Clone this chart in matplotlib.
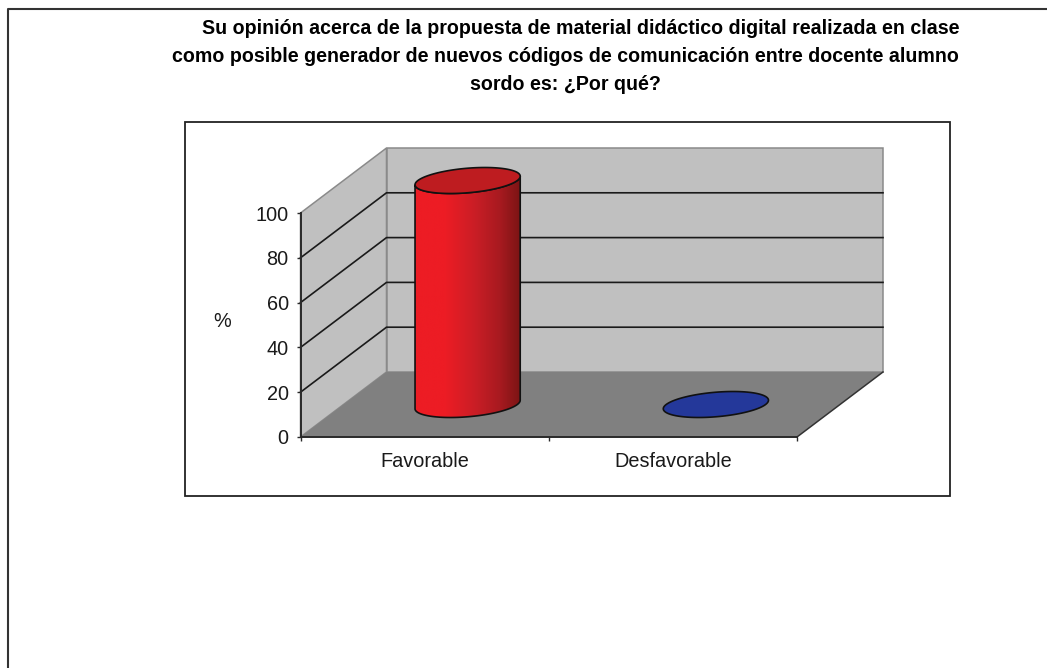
import numpy as np
import matplotlib
matplotlib.use("Agg")
import matplotlib.pyplot as plt
from matplotlib.patches import Polygon, Rectangle
from matplotlib.colors import LinearSegmentedColormap
from matplotlib.lines import Line2D

# ---- data ----
title_lines = [
    "Su opinión acerca de la propuesta de material didáctico digital realizada en clase",
    "como posible generador de nuevos códigos de comunicación entre docente alumno",
    "sordo es: ¿Por qué?",
]
categories = ["Favorable", "Desfavorable"]
values = [100, 0]
y_ticks = [0, 20, 40, 60, 80, 100]
y_label = "%"

# ---- styles ----
W, H = 1047, 668
plt.rcParams["font.family"] = ["Liberation Sans", "DejaVu Sans"]
WALL, FLOOR, EDGE = "#C0C0C0", "#808080", "#8A8A8A"
ramp_stops = [0, 0.28, 0.55, 0.8, 1]
side_ramps = [["#ED1C24", "#ED1C24", "#CC1E26", "#A81A20", "#7A1414"],
              ["#24389A", "#24389A", "#1E2E80", "#182468", "#101A50"]]
top_colors = ["#BE1C20", "#24389A"]
LABEL_SIZE = 14.3
LABEL_COLOR = "#1A1A1A"

fig = plt.figure(figsize=(W / 100, H / 100), dpi=100, facecolor="white")
# front plane of the 3D box
x0, x1, ytop, ybot = 300.5, 797, 213, 437
ax = fig.add_axes([x0 / W, 1 - ybot / H, (x1 - x0) / W, (ybot - ytop) / H])
ax.patch.set_visible(False)
ax.set_xlim(0, len(categories))
ax.set_ylim(0, 100)

# depth vector in data units
px_x = len(categories) / (x1 - x0)
px_y = 100 / (ybot - ytop)
dx, dy = 86 * px_x, 65 * px_y
xmax = len(categories)

def add_poly(pts, **kw):
    ax.add_patch(Polygon(pts, closed=True, clip_on=False, **kw))

# walls and floor
add_poly([(0, 0), (dx, dy), (dx, 100 + dy), (0, 100)], fc=WALL, ec=EDGE, lw=1.1, zorder=1)
add_poly([(dx, dy), (xmax + dx, dy), (xmax + dx, 100 + dy), (dx, 100 + dy)], fc=WALL, ec=EDGE, lw=1.1, zorder=1)
add_poly([(0, 0), (xmax, 0), (xmax + dx, dy), (dx, dy)], fc=FLOOR, ec="none", zorder=1.5)
ax.plot([xmax, xmax + dx], [0, dy], color="#333333", lw=1.1, clip_on=False, zorder=2)

# gridlines along side and back wall
for t in y_ticks[1:-1]:
    ax.plot([0, dx, xmax + dx], [t, t + dy, t + dy], color="#1A1A1A", lw=1.2,
            clip_on=False, zorder=2)

# cylinders
a = 49.7 * px_x
b = 0.2
th = np.linspace(0, 2 * np.pi, 241)
t_ext = np.arctan2(b * dx, a)

def ring(cx, base, tt):
    return (cx + a * np.cos(tt) + b * dx * np.sin(tt) + dx / 2,
            base + dy / 2 + b * dy * np.sin(tt))

for i, (v, ramp, tc) in enumerate(zip(values, side_ramps, top_colors)):
    cx = i + 0.5
    if v > 0:
        # front arc of the base, front arc of the top reversed
        tf = np.linspace(np.pi + t_ext, 2 * np.pi + t_ext, 120)
        bx, by = ring(cx, 0, tf)
        ux, uy = ring(cx, v, tf[::-1])
        verts = np.r_[np.c_[bx, by], np.c_[ux, uy], [[bx[0], by[0]]]]
        clip = Polygon(verts, closed=True, transform=ax.transData, fc="none", ec="none")
        ax.add_patch(clip)
        clip.set_clip_on(False)
        cmap = LinearSegmentedColormap.from_list("cyl", list(zip(ramp_stops, ramp)))
        im = ax.imshow(np.linspace(0, 1, 256)[None, :], cmap=cmap, aspect="auto",
                       extent=[verts[:, 0].min(), verts[:, 0].max(), verts[:, 1].min(), verts[:, 1].max()],
                       zorder=3)
        im.set_clip_box(fig.bbox)
        im.set_clip_path(clip)
        add_poly(verts, fc="none", ec="#111111", lw=1.2, zorder=3.2)
    tx, ty = ring(cx, v, th)
    add_poly(np.c_[tx, ty], fc=tc, ec="#111111", lw=1.2, zorder=3.4)

ax.set_xlim(0, xmax)
ax.set_ylim(0, 100)

# axes
for s in ("top", "right"):
    ax.spines[s].set_visible(False)
for s in ("left", "bottom"):
    ax.spines[s].set_color("#2A2A2A")
    ax.spines[s].set_linewidth(1.4)
    ax.spines[s].set_zorder(2.5)
ax.set_yticks(y_ticks)
ax.set_yticklabels([str(t) for t in y_ticks], fontsize=LABEL_SIZE, color=LABEL_COLOR)
ax.set_xticks(range(xmax + 1))
ax.set_xticklabels([])
ax.set_xticks(np.arange(xmax) + 0.5, categories, minor=True, fontsize=LABEL_SIZE, color=LABEL_COLOR)
ax.tick_params(axis="x", which="minor", length=0, pad=11)
ax.tick_params(axis="x", which="major", length=3, width=1, color="#2A2A2A")
ax.tick_params(axis="y", length=3, width=1, color="#2A2A2A", pad=5.5)
fig.text(222 / W, 1 - 321.5 / H, y_label, fontsize=LABEL_SIZE, ha="center", va="center", color=LABEL_COLOR)

# frames
fig.add_artist(Rectangle((184.5 / W, 1 - 495.5 / H), (950 - 184.5) / W, (495.5 - 121.5) / H,
                         transform=fig.transFigure, fc="none", ec="#222222", lw=1.3, zorder=0))
fig.add_artist(Line2D([7.5 / W, 7.5 / W, 1], [0, 1 - 8.5 / H, 1 - 8.5 / H],
                      transform=fig.transFigure, color="#333333", lw=1.5))

# title
for line, xx, yy in zip(title_lines, [581, 565, 565], [28, 57, 85]):
    fig.text(xx / W, 1 - yy / H, line, fontsize=14.1, fontweight="bold", ha="center", va="center",
             color="black")

fig.savefig("out.png", dpi=100, facecolor="white")
